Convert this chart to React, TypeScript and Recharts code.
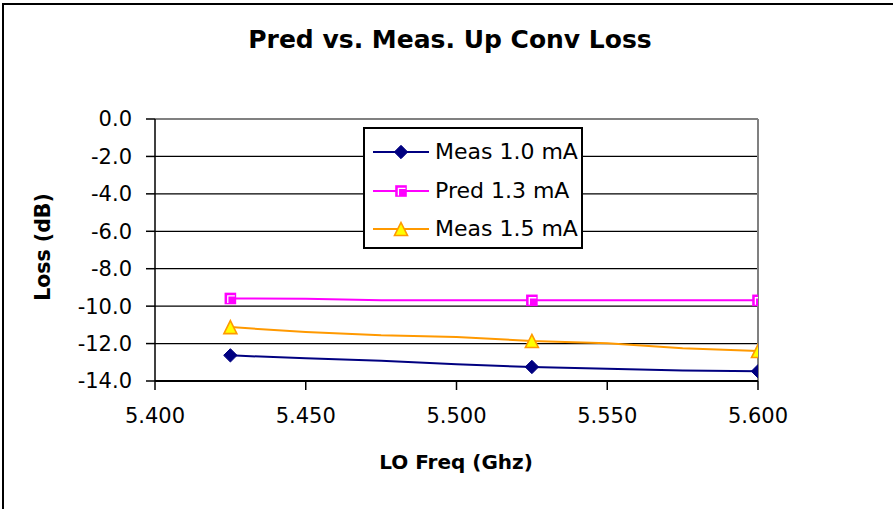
import React from 'react';
import { LineChart, Line, XAxis, YAxis, CartesianGrid, Legend, ReferenceLine } from 'recharts';

const freqs = [5.425, 5.45, 5.475, 5.5, 5.525, 5.55, 5.575, 5.6];
const meas10 = [-12.63, -12.79, -12.92, -13.11, -13.25, -13.35, -13.44, -13.48];
const pred13 = [-9.59, -9.6, -9.69, -9.69, -9.69, -9.69, -9.69, -9.69];
const meas15 = [-11.12, -11.38, -11.56, -11.65, -11.86, -11.98, -12.25, -12.4];
const markerFreqs = [5.425, 5.525, 5.6];
const seriesNames = ['Meas 1.0 mA', 'Pred 1.3 mA', 'Meas 1.5 mA'];
const xTicks = [5.4, 5.45, 5.5, 5.55, 5.6];
const yTicks = [0, -2, -4, -6, -8, -10, -12, -14];
const titleText = 'Pred vs. Meas. Up Conv Loss';
const xLabel = 'LO Freq (Ghz)';
const yLabel = 'Loss (dB)';

const data = freqs.map((f, i) => ({ freq: f, meas10: meas10[i], pred13: pred13[i], meas15: meas15[i] }));

const BLUE = '#000080';
const MAGENTA = '#FF00FF';
const ORANGE = '#FF9900';
const YELLOW = '#FFFF00';
const FONT = '"DejaVu Sans", Arial, sans-serif';

const isMarker = (f: number) => markerFreqs.some((m) => Math.abs(m - f) < 1e-6);

const Diamond = ({ cx, cy }: { cx: number; cy: number }) => (
  <path d={`M${cx},${cy - 6.7}L${cx + 6.7},${cy}L${cx},${cy + 6.7}L${cx - 6.7},${cy}Z`} fill={BLUE} stroke={BLUE} strokeWidth={1} />
);
const Square = ({ cx, cy }: { cx: number; cy: number }) => (
  <g>
    <rect x={cx - 5.8} y={cy - 5.8} width={11.6} height={11.6} fill={MAGENTA} />
    <path d={`M${cx - 2.6},${cy + 4.5}L${cx - 2.6},${cy - 2.6}L${cx + 4.5},${cy - 2.6}`} fill="none" stroke="#fff" strokeWidth={1.3} />
  </g>
);
const Triangle = ({ cx, cy }: { cx: number; cy: number }) => (
  <path d={`M${cx},${cy - 6.5}L${cx + 6.5},${cy + 6.5}L${cx - 6.5},${cy + 6.5}Z`} fill={YELLOW} stroke={ORANGE} strokeWidth={1.6} strokeLinejoin="miter" />
);

const makeDot = (Shape: any, name: string) => (props: any) => {
  const { cx, cy, payload, index } = props;
  if (!payload || !isMarker(payload.freq) || cx == null || cy == null) return <g key={`${name}-${index}`} />;
  return (
    <g key={`${name}-${index}`}>
      <Shape cx={cx} cy={cy} />
    </g>
  );
};

const legendShapes = [Diamond, Square, Triangle];
const legendColors = [BLUE, MAGENTA, ORANGE];

const renderLegend = () => (
  <div
    style={{
      boxSizing: 'border-box',
      width: 220,
      height: 122,
      border: '2px solid #000',
      background: '#fff',
      paddingTop: 4,
    }}
  >
    {seriesNames.map((n, i) => {
      const S = legendShapes[i];
      return (
        <div key={n} style={{ display: 'flex', alignItems: 'center', height: 38.5 }}>
          <svg width={56} height={20} style={{ marginLeft: 8, display: 'block' }}>
            <line x1={0} y1={10} x2={56} y2={10} stroke={legendColors[i]} strokeWidth={2} />
            <S cx={28} cy={10} />
          </svg>
          <span style={{ marginLeft: 6, fontFamily: FONT, fontSize: 22, color: '#000', lineHeight: '24px', whiteSpace: 'nowrap' }}>{n}</span>
        </div>
      );
    })}
  </div>
);

export default function App() {
  return (
    <div style={{ position: 'absolute', left: 0, top: 0, width: 893, height: 509, overflow: 'hidden', background: '#fff' }}>
      <div style={{ position: 'absolute', left: 2, top: 3, width: 1000, height: 1000, border: '2px solid #000' }} />
      <div style={{ position: 'absolute', left: 0, top: 0 }}>
        <LineChart width={893} height={509} data={data} margin={{ top: 119, right: 135, bottom: 68, left: 0 }}>
          <CartesianGrid horizontal={true} vertical={false} stroke="#000" strokeWidth={1.3} />
          <ReferenceLine y={0} stroke="#808080" strokeWidth={2} />
          <ReferenceLine x={5.6} stroke="#808080" strokeWidth={2} />
          <XAxis
            dataKey="freq"
            type="number"
            domain={[5.4, 5.6]}
            ticks={xTicks}
            tickFormatter={(v: number) => v.toFixed(3)}
            height={60}
            axisLine={{ stroke: '#000', strokeWidth: 2 }}
            tickLine={{ stroke: '#000', strokeWidth: 1.5 }}
            tickSize={9}
            tickMargin={18}
            tick={{ fill: '#000', fontSize: 21, fontFamily: FONT }}
            interval={0}
            allowDataOverflow
          />
          <YAxis
            type="number"
            domain={[-14, 0]}
            ticks={yTicks}
            tickFormatter={(v: number) => v.toFixed(1)}
            width={155}
            axisLine={{ stroke: '#000', strokeWidth: 1.5 }}
            tickLine={{ stroke: '#000', strokeWidth: 1.5 }}
            tickSize={9}
            tickMargin={14}
            tick={{ fill: '#000', fontSize: 21, fontFamily: FONT }}
            interval={0}
          />
          <Legend layout="vertical" align="center" verticalAlign="middle" wrapperStyle={{ left: 363, top: 127, width: 220, height: 122 }} content={renderLegend} />
          <Line type="linear" dataKey="meas10" name={seriesNames[0]} stroke={BLUE} strokeWidth={2} dot={makeDot(Diamond, 'a')} activeDot={false} isAnimationActive={false} />
          <Line type="linear" dataKey="pred13" name={seriesNames[1]} stroke={MAGENTA} strokeWidth={2} dot={makeDot(Square, 'b')} activeDot={false} isAnimationActive={false} />
          <Line type="linear" dataKey="meas15" name={seriesNames[2]} stroke={ORANGE} strokeWidth={2} dot={makeDot(Triangle, 'c')} activeDot={false} isAnimationActive={false} />
        </LineChart>
      </div>
      <svg width={893} height={509} style={{ position: 'absolute', left: 0, top: 0, pointerEvents: 'none' }}>
        <text x={450} y={48} textAnchor="middle" fontFamily={FONT} fontWeight="bold" fontSize={25} fill="#000">{titleText}</text>
        <text x={456} y={469} textAnchor="middle" fontFamily={FONT} fontWeight="bold" fontSize={20} fill="#000">{xLabel}</text>
        <text x={0} y={0} transform="translate(50,247) rotate(-90)" textAnchor="middle" fontFamily={FONT} fontWeight="bold" fontSize={20.5} fill="#000">{yLabel}</text>
      </svg>
    </div>
  );
}
